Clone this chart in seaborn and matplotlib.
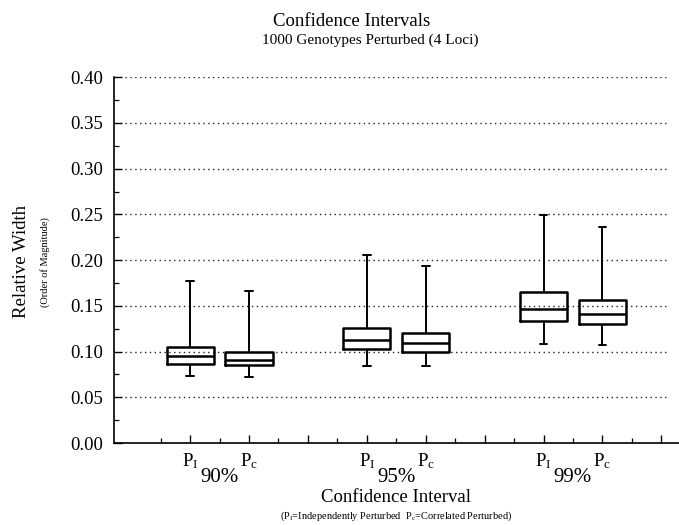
import numpy as np
import pandas as pd
import matplotlib
matplotlib.use("Agg")
import matplotlib.pyplot as plt
import seaborn as sns
from matplotlib.ticker import MultipleLocator, FormatStrFormatter
from matplotlib.transforms import blended_transform_factory

# ---------------- data ----------------
groups = ["90%", "95%", "99%"]
methods = [r"$\mathrm{P}_{\mathrm{I}}$", r"$\mathrm{P}_{\mathrm{c}}$"]
whisker_low = [0.073, 0.0724, 0.0845, 0.0845, 0.108, 0.1075]
q1 = [0.087, 0.085, 0.103, 0.100, 0.134, 0.130]
median = [0.095, 0.091, 0.113, 0.109, 0.147, 0.141]
q3 = [0.1054, 0.100, 0.1263, 0.120, 0.165, 0.156]
whisker_high = [0.1767, 0.1666, 0.206, 0.194, 0.249, 0.236]

# ---------------- style ----------------
sns.set_theme(style="white")
plt.rcParams["font.family"] = ["Liberation Serif", "DejaVu Serif"]
plt.rcParams["mathtext.fontset"] = "custom"
plt.rcParams["mathtext.rm"] = "Liberation Serif"
plt.rcParams["mathtext.it"] = "Liberation Serif:italic"
plt.rcParams["mathtext.bf"] = "Liberation Serif:bold"
plt.rcParams["text.color"] = "black"
plt.rcParams["xtick.color"] = "black"
plt.rcParams["ytick.color"] = "black"

# build long table: 5 values per box reproduce the five-number summary
rows = []
slot_labels = {}
for gi, g in enumerate(groups):
    for mi, m in enumerate(methods):
        k = gi * 2 + mi
        pos = gi * 3 + mi + 1
        slot_labels[pos] = m
        for v in (whisker_low[k], q1[k], median[k], q3[k], whisker_high[k]):
            rows.append({"pos": pos, "value": v})
df = pd.DataFrame(rows)

fig = plt.figure(figsize=(6.79, 5.25), dpi=100)
ax = fig.add_axes([0.168, 0.156, 0.832, 0.697])

sns.boxplot(data=df, x="pos", y="value", native_scale=True, fill=False,
            color="black", linewidth=1.8, width=0.8, whis=(0, 100),
            capwidths=0.13, showfliers=False, ax=ax,
            whiskerprops={"linewidth": 1.4, "color": "black"},
            capprops={"linewidth": 1.4, "color": "black"},
            boxprops={"linewidth": 1.8, "color": "black"},
            medianprops={"linewidth": 1.8, "color": "black"})

ax.set_xlim(-0.29, 9.3)
ax.set_ylim(0, 0.40)

# grid
ax.set_yticks(np.arange(0, 0.401, 0.05))
for yv in np.arange(0.05, 0.401, 0.05):
    ax.axhline(yv, xmin=0.02, xmax=0.98, color="#222222", lw=1.0,
               ls=(0, (1, 2.5)), zorder=0)
ax.grid(False)

ax.yaxis.set_major_formatter(FormatStrFormatter("%.2f"))
ax.yaxis.set_minor_locator(MultipleLocator(0.025))

xt = np.arange(1, 10)
ax.set_xticks(xt)
ax.set_xticklabels([slot_labels.get(int(p), "") for p in xt])
ax.set_xticks(np.arange(0.5, 9.5, 1.0), minor=True)

ax.tick_params(axis="both", which="both", direction="in", colors="black",
               bottom=True, left=True, top=False, right=False)
ax.tick_params(axis="both", which="major", length=6, width=1.0)
ax.tick_params(axis="both", which="minor", length=3.5, width=0.9)
ax.tick_params(axis="y", labelsize=13.5, pad=8)
ax.tick_params(axis="x", labelsize=13.5, pad=6)

for s in ("top", "right"):
    ax.spines[s].set_visible(False)
for s in ("left", "bottom"):
    ax.spines[s].set_color("black")
    ax.spines[s].set_linewidth(1.2)

ax.set_xlabel("")
ax.set_ylabel("")

# group labels
tr = blended_transform_factory(ax.transData, fig.transFigure)
for gi, g in enumerate(groups):
    ax.text(gi * 3 + 1.5, 1 - 478 / 525, g, transform=tr, ha="center",
            va="center", fontsize=15)

fig.text(0.168 + 0.832 * (4.5 + 0.29) / 9.59, 1 - 497 / 525,
         "Confidence Interval", ha="center", va="center", fontsize=13.5)
fig.text(0.168 + 0.832 * (4.5 + 0.29) / 9.59, 1 - 516 / 525,
         r"(P$_\mathrm{I}$=Independently Perturbed  P$_\mathrm{c}$=Correlated Perturbed)",
         ha="center", va="center", fontsize=7.5)

fig.text(352 / 679, 1 - 21 / 525, "Confidence Intervals", ha="center",
         va="center", fontsize=13.5)
fig.text(370 / 679, 1 - 40 / 525, "1000 Genotypes Perturbed (4 Loci)",
         ha="center", va="center", fontsize=11)

fig.text(22 / 679, 1 - 262 / 525, "Relative Width", rotation=90,
         ha="center", va="center", fontsize=13.5)
fig.text(45 / 679, 1 - 262 / 525, "(Order of Magnitude)", rotation=90,
         ha="center", va="center", fontsize=7.5)

fig.savefig("out.png", dpi=100)
